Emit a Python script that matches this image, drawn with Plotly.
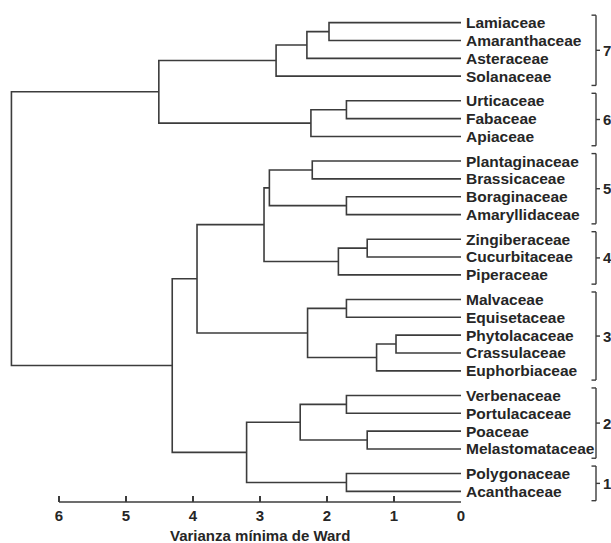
import plotly.graph_objects as go

# ---------------- data ----------------
leaves = ["Lamiaceae", "Amaranthaceae", "Asteraceae", "Solanaceae",
          "Urticaceae", "Fabaceae", "Apiaceae",
          "Plantaginaceae", "Brassicaceae", "Boraginaceae", "Amaryllidaceae",
          "Zingiberaceae", "Cucurbitaceae", "Piperaceae",
          "Malvaceae", "Equisetaceae", "Phytolacaceae", "Crassulaceae", "Euphorbiaceae",
          "Verbenaceae", "Portulacaceae", "Poaceae", "Melastomataceae",
          "Polygonaceae", "Acanthaceae"]
groups = [7, 7, 7, 7, 6, 6, 6, 5, 5, 5, 5, 4, 4, 4, 3, 3, 3, 3, 3, 2, 2, 2, 2, 1, 1]

# merges: (child_a, child_b, height); leaves are 0..24, merge i gets id 25+i
merge_a = [0, 25, 26, 4, 28, 27, 7, 9, 31, 11, 34, 33, 14, 16, 38, 37, 36, 19, 21, 42, 23, 44, 41, 30]
merge_b = [1, 2, 3, 5, 6, 29, 8, 10, 32, 12, 13, 35, 15, 17, 18, 39, 40, 20, 22, 43, 24, 45, 46, 47]
merge_h = [1.97, 2.30, 2.76, 1.71, 2.24, 4.51, 2.22, 1.71, 2.86, 1.40, 1.83, 2.94,
           1.71, 0.97, 1.26, 2.29, 3.94, 1.71, 1.40, 2.40, 1.71, 3.20, 4.31, 6.71]

x_ticks = [6, 5, 4, 3, 2, 1, 0]
x_title = "Varianza mínima de Ward"

# ---------------- layout constants ----------------
W, H = 611, 543
ML, MR, MT, MB = 5, 150, 5, 41
GAP = 0.38
LINE = "#3c3c3c"
TXT = "#262626"
FONT = "Liberation Sans, Arial, sans-serif"
FS = 15
FS_LEAF = 15.5

# leaf positions (with gaps between clusters)
leaf_y = []
k = 0
for i, g in enumerate(groups):
    if i > 0 and g != groups[i - 1]:
        k += 1
    leaf_y.append(i + GAP * k)

n = len(leaves)
node_y = {i: leaf_y[i] for i in range(n)}
node_h = {i: 0.0 for i in range(n)}
xs, ys = [], []
for j, (a, b, h) in enumerate(zip(merge_a, merge_b, merge_h)):
    nid = n + j
    node_y[nid] = (node_y[a] + node_y[b]) / 2
    node_h[nid] = h
    xs += [node_h[a], h, h, node_h[b], None]
    ys += [node_y[a], node_y[a], node_y[b], node_y[b], None]

fig = go.Figure()
fig.add_trace(go.Scatter(x=xs, y=ys, mode="lines",
                         line=dict(color=LINE, width=1.6),
                         hoverinfo="skip", showlegend=False))

y_lo = leaf_y[-1] + 0.594
y_hi = leaf_y[0] - 0.99
x_left = (W - MR - ML) / 67.0

plot_w = W - ML - MR

def px2paper(px):
    return (px - ML) / plot_w

shapes = []
annotations = []
shapes.append(dict(type="line", xref="x", yref="paper", x0=min(x_ticks), x1=max(x_ticks),
                   y0=0, y1=0, line=dict(color=LINE, width=1.6)))

bx = px2paper(596)
bl = px2paper(591.5)
br = px2paper(600)
for g in sorted(set(groups), reverse=True):
    idx = [i for i, gg in enumerate(groups) if gg == g]
    top = leaf_y[idx[0]] - 0.42
    bot = leaf_y[idx[-1]] + 0.52
    mid = (top + bot) / 2
    for (x0, y0, x1, y1) in [(bx, top, bx, bot), (bl, top, bx, top), (bl, bot, bx, bot), (bx, mid, br, mid)]:
        shapes.append(dict(type="line", xref="paper", yref="y", x0=x0, y0=y0, x1=x1, y1=y1,
                           line=dict(color=LINE, width=1.4)))
    annotations.append(dict(x=px2paper(600.5), y=mid, xref="paper", yref="y", text=str(g),
                            showarrow=False, xanchor="left", yanchor="middle",
                            font=dict(family=FONT, size=FS, color=TXT, weight="bold")))

annotations.append(dict(x=(min(x_ticks) + max(x_ticks)) / 2, y=0, xref="x", yref="paper",
                        text=x_title, showarrow=False, xanchor="center", yanchor="middle",
                        yshift=-33, font=dict(family=FONT, size=FS, color=TXT, weight="bold")))

fig.update_layout(
    width=W, height=H,
    margin=dict(l=ML, r=MR, t=MT, b=MB),
    paper_bgcolor="white", plot_bgcolor="white",
    shapes=shapes, annotations=annotations,
    xaxis=dict(range=[x_left, 0], tickvals=x_ticks, ticktext=[str(v) for v in x_ticks],
               ticks="inside", ticklen=6, tickwidth=1.6, tickcolor=LINE,
               showline=False, showgrid=False, zeroline=False,
               tickfont=dict(family=FONT, size=FS, color=TXT, weight="bold"),
               ticklabelstandoff=3),
    yaxis=dict(range=[y_lo, y_hi], side="right", tickvals=leaf_y, ticktext=leaves,
               ticks="", showline=False, showgrid=False, zeroline=False,
               tickfont=dict(family=FONT, size=FS_LEAF, color=TXT, weight="bold"),
               ticklabelstandoff=4),
)

fig.write_html("out.html", config={"displayModeBar": False},
               post_script="document.body.style.margin='0';document.body.style.padding='0';")
